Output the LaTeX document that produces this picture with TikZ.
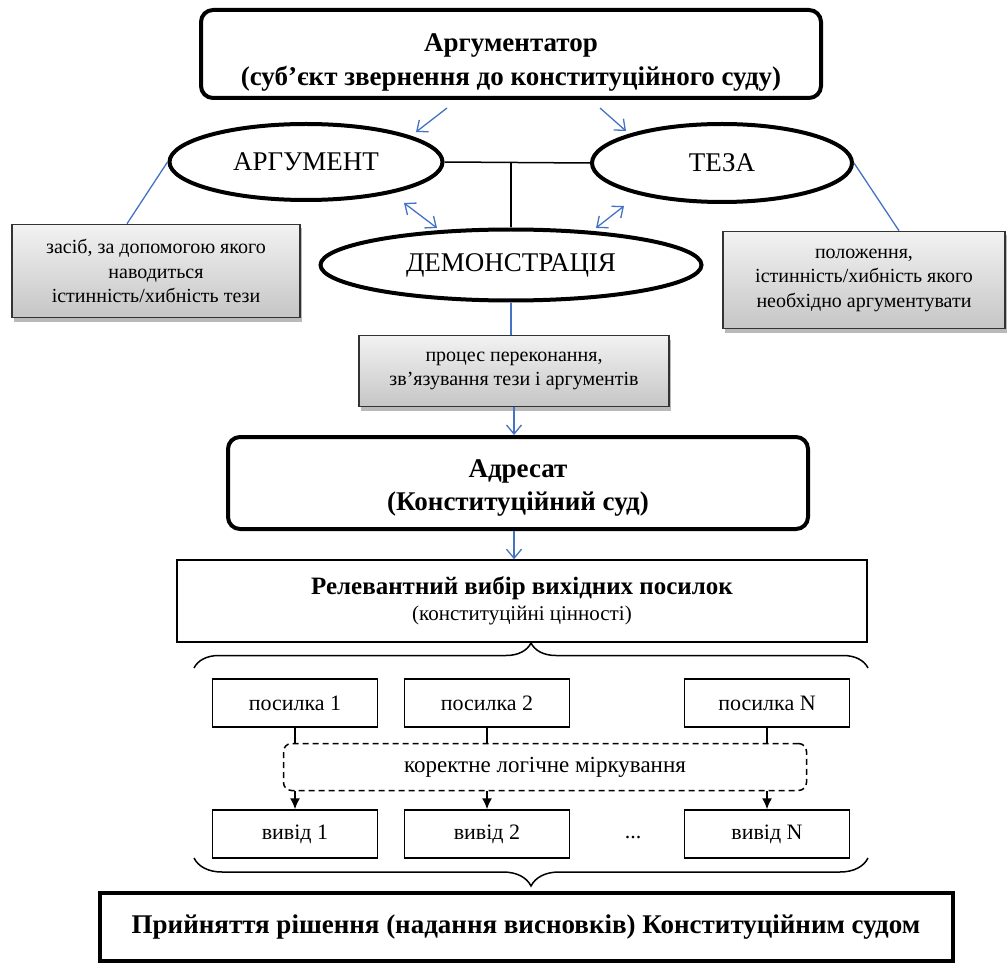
\documentclass[tikz,border=0pt]{standalone}
\usepackage{fontspec}
\setmainfont{Liberation Serif}
\usetikzlibrary{shapes.geometric,arrows.meta,decorations.pathreplacing,shadows,calc}
\definecolor{lineblue}{RGB}{68,114,196}

\begin{document}
\begin{tikzpicture}[x=1pt,y=-1pt,
    bigbox/.style={draw=black, line width=4pt, rounded corners=12pt, align=center, inner sep=0pt,
      font=\fontsize{27}{34}\selectfont\bfseries},
    oval/.style={draw=black, line width=4pt, ellipse, inner sep=0pt, font=\fontsize{27}{30}\selectfont},
    notebox/.style={draw=black!80, line width=1.5pt, top color=gray!10, bottom color=gray!45,
      align=center, inner sep=0pt, font=\fontsize{20}{24.5}\selectfont,
      drop shadow={shadow xshift=2pt, shadow yshift=-4pt, fill=gray!55, opacity=1}},
    plainbox/.style={draw=black, line width=1.5pt, inner sep=0pt, align=center,
      font=\fontsize{22}{25}\selectfont}]
  \useasboundingbox (0,0) rectangle (1008,965);

  % upper part
  \node[bigbox, minimum width=620pt, minimum height=88pt] (author) at (511,54)
    {\rule{0pt}{34pt}Аргументатор\\(суб’єкт звернення до конституційного суду)};
  \begin{scope}[every node/.style={oval}]
    \node[minimum width=273pt, minimum height=76pt] (arg)  at (306,162) {АРГУМЕНТ};
    \node[minimum width=260pt, minimum height=78pt] (thes) at (722,163) {ТЕЗА};
    \node[minimum width=381pt, minimum height=71pt] (demo) at (511,265) {ДЕМОНСТРАЦІЯ};
  \end{scope}
  \begin{scope}[every node/.style={notebox}]
    \node[minimum width=288pt, minimum height=93pt] (argnote) at (156,271)
      {засіб, за допомогою якого\\наводиться\\істинність/хибність тези};
    \node[minimum width=282pt, minimum height=97pt] (thesnote) at (864,280)
      {положення,\\істинність/хибність якого\\необхідно аргументувати};
    \node[minimum width=310pt, minimum height=71pt] (demonote) at (514,371)
      {процес переконання,\\зв’язування тези і аргументів};
  \end{scope}
  \node[bigbox, minimum width=580pt, minimum height=92pt, font=\fontsize{27}{33}\selectfont\bfseries] (addr) at (518,483)
    {\rule{0pt}{28pt}Адресат\\(Конституційний суд)};

  % free ends of the blue arrows
  \coordinate (a1) at (447,108); \coordinate (a2) at (416,132);
  \coordinate (b1) at (600,108); \coordinate (b2) at (626,131);
  \coordinate (c1) at (404,203); \coordinate (c2) at (437,228);
  \coordinate (d1) at (596,228); \coordinate (d2) at (624,206);

  \begin{scope}[every edge/.style={draw=lineblue, line width=1.3pt}]
    \path (a1) edge[-{Straight Barb[length=9pt,width=15pt]}] (a2);
    \path (b1) edge[-{Straight Barb[length=9pt,width=15pt]}] (b2);
    \path (c1) edge[{Straight Barb[length=9pt,width=15pt]}-{Straight Barb[length=9pt,width=15pt]}] (c2);
    \path (d1) edge[{Straight Barb[length=9pt,width=15pt]}-{Straight Barb[length=9pt,width=15pt]}] (d2);
    \path (arg.west) edge ($(argnote.north)+(-29,0)$);
    \path (thes.east) edge ($(thesnote.north)+(35,0)$);
    \path (demo.south) edge (demo.south |- demonote.north);
    \path (demonote.south) edge[-{Straight Barb[length=9pt,width=15pt]}] (demonote.south |- addr.north);
  \end{scope}
  \draw[line width=1.5pt] (arg.east) -- (thes.west);
  \draw[line width=1.5pt] (demo.north |- arg.east) -- (demo.north);

  % lower part
  \node[plainbox, minimum width=690pt, minimum height=82pt, font=\fontsize{21}{26}\selectfont] (relev) at (522,601)
    {{\fontsize{25}{26}\selectfont\bfseries Релевантний вибір вихідних посилок}\\(конституційні цінності)};
  \path (demonote.south |- addr.south) edge[draw=lineblue, line width=1.3pt, -{Straight Barb[length=9pt,width=15pt]}] (demonote.south |- relev.north);

  \begin{scope}[every node/.style={plainbox, minimum width=165pt, minimum height=48pt}]
    \node (p1) at (295,703) {посилка 1};
    \node (p2) at (487,703) {посилка 2};
    \node (pn) at (767,703) {посилка N};
    \node (v1) at (295,834) {вивід 1};
    \node (v2) at (487,834) {вивід 2};
    \node (vn) at (767,834) {вивід N};
  \end{scope}
  \node[draw=black, line width=1.5pt, dash pattern=on 6pt off 4pt, rounded corners=8pt,
    minimum width=523pt, minimum height=47pt, inner sep=0pt, font=\fontsize{23}{25}\selectfont]
    (logic) at (545,767) {коректне логічне міркування};
  \node[font=\fontsize{22}{25}\selectfont] (dots) at (633,838) {...};

  \begin{scope}[every edge/.style={draw=black, line width=1.5pt}]
    \path (p1.south) edge (p1.south |- logic.north);
    \path (p2.south) edge (p2.south |- logic.north);
    \path (pn.south) edge (pn.south |- logic.north);
    \path (v1.north |- logic.south) edge[-{Latex[length=11pt,width=10pt]}] (v1.north);
    \path (v2.north |- logic.south) edge[-{Latex[length=11pt,width=10pt]}] (v2.north);
    \path (vn.north |- logic.south) edge[-{Latex[length=11pt,width=10pt]}] (vn.north);
  \end{scope}

  \coordinate (bra1) at (194,668); \coordinate (bra2) at (868,668);
  \coordinate (brb1) at (868,858); \coordinate (brb2) at (194,858);
  \draw[line width=1.5pt, decorate, decoration={brace, amplitude=25pt}] (bra1) -- (bra2);
  \draw[line width=1.5pt, decorate, decoration={brace, amplitude=28pt}] (brb1) -- (brb2);

  \node[draw=black, line width=4pt, minimum width=853pt, minimum height=68pt, inner sep=0pt,
    font=\fontsize{27}{30}\selectfont\bfseries] (verdict) at (526,927)
    {Прийняття рішення (надання висновків) Конституційним судом};
\end{tikzpicture}
\end{document}
